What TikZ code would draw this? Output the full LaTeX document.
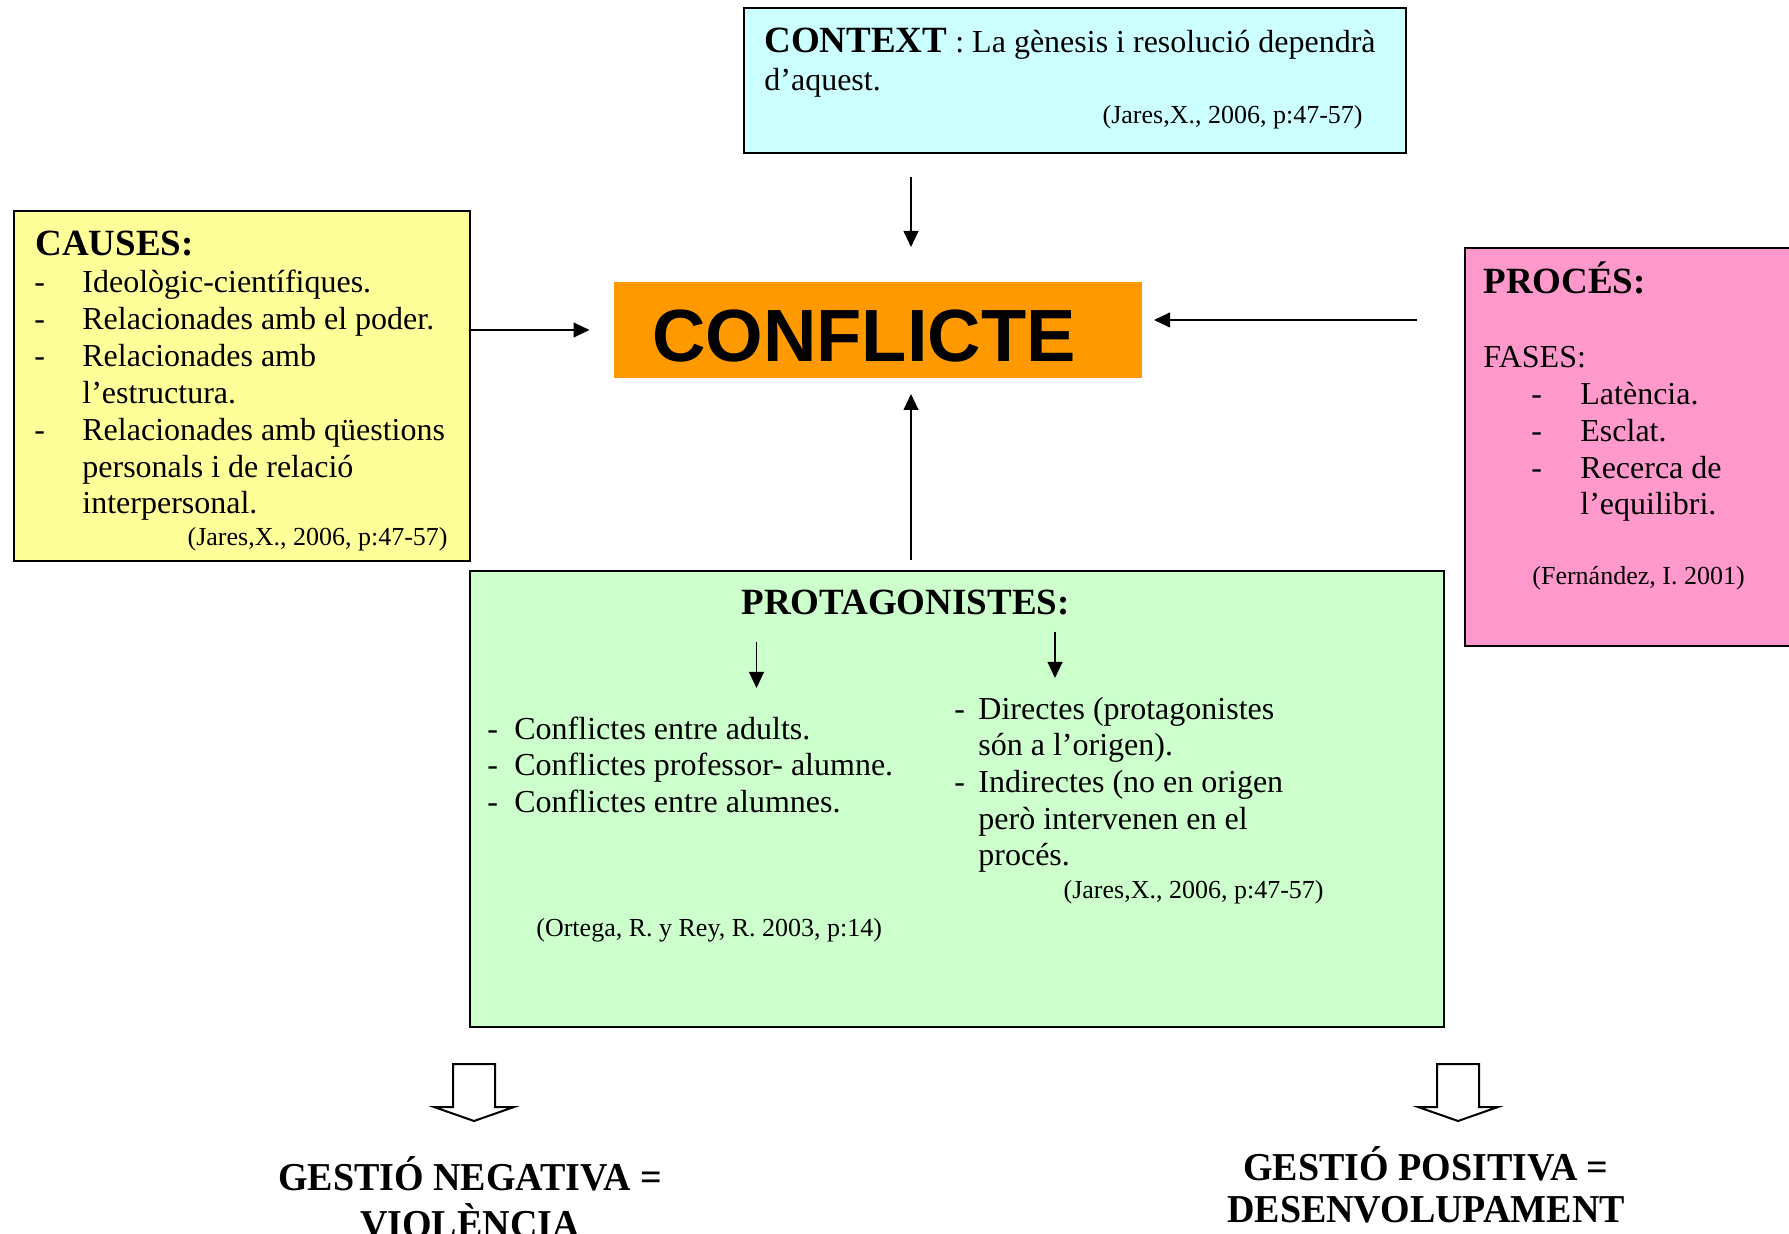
\documentclass[tikz,border=0pt]{standalone}
\usepackage{fontspec}
\setmainfont{Liberation Serif}
\newfontfamily\arialf{Liberation Sans}
\usetikzlibrary{arrows.meta}
\definecolor{ctxc}{HTML}{CCFFFF}
\definecolor{causc}{HTML}{FFFF99}
\definecolor{procc}{HTML}{FF99CC}
\definecolor{protc}{HTML}{CCFFCC}
\definecolor{confc}{HTML}{FF9900}
\tikzset{
  box/.style={draw=black, line width=1pt, inner sep=0pt, anchor=north west},
  txt/.style={inner sep=0pt, anchor=base west, font=\fontsize{16}{18.4}\selectfont},
  hd/.style={inner sep=0pt, anchor=base west, font=\fontsize{18.5}{21}\selectfont\bfseries},
  cite/.style={inner sep=0pt, font=\fontsize{13}{15}\selectfont},
  bot/.style={inner sep=0pt, anchor=base, font=\fontsize{19}{22}\selectfont\bfseries},
  arr/.style={-{Triangle[length=8pt,width=7.4pt]}, line width=0.8pt},
  hollow/.style={draw=black, fill=white, line width=1pt, line join=miter}
}
\begin{document}
\begin{tikzpicture}[x=0.5pt, y=-0.5pt]
\useasboundingbox (0,0) rectangle (1789,1234);
% boxes
\node[box, fill=ctxc, minimum width=331pt, minimum height=72.5pt] (ctx) at (743,7) {};
\node[box, fill=causc, minimum width=228.25pt, minimum height=175pt] (causes) at (12.5,210) {};
\node[box, draw=none, fill=confc, minimum width=264.25pt, minimum height=48.25pt] (conf) at (612.5,281) {};
\node[box, fill=procc, minimum width=168.25pt, minimum height=199pt] (proc) at (1463.5,247.5) {};
\node[box, fill=protc, minimum width=487pt, minimum height=227.75pt] (prot) at (469,570) {};

% CONTEXT
\node[txt] (ctx1) at (764,53) {{\fontsize{18.5}{21}\selectfont\bfseries CONTEXT} : La gènesis i resolució dependrà};
\node[txt] (ctx2) at (764,91) {d’aquest.};
\node[cite, anchor=base east] (ctx3) at (1363,124) {(Jares,X., 2006, p:47-57)};

% CONFLICTE
\node[inner sep=0pt, anchor=base, font=\arialf\fontsize{37}{40}\selectfont\bfseries] (conft) at (864,362) {CONFLICTE};

% CAUSES
\node[hd] (cau0) at (35,256) {CAUSES:};
\node[txt] (caud1) at (34,293) {-};
\node[txt] (cau1) at (82,293) {Ideològic-científiques.};
\node[txt] (caud2) at (34,330) {-};
\node[txt] (cau2) at (82,330) {Relacionades amb el poder.};
\node[txt] (caud3) at (34,367) {-};
\node[txt] (cau3) at (82,367) {Relacionades amb};
\node[txt] (cau4) at (82,404) {l’estructura.};
\node[txt] (caud5) at (34,441) {-};
\node[txt] (cau5) at (82,441) {Relacionades amb qüestions};
\node[txt] (cau6) at (82,478) {personals i de relació};
\node[txt] (cau7) at (82,514) {interpersonal.};
\node[cite, anchor=base east] (cau8) at (448,546) {(Jares,X., 2006, p:47-57)};

% PROCES
\node[hd] (pro0) at (1483,294) {PROCÉS:};
\node[txt] (pro1) at (1483,368) {FASES:};
\node[txt] (prod2) at (1531,405) {-};
\node[txt] (pro2) at (1580,405) {Latència.};
\node[txt] (prod3) at (1531,442) {-};
\node[txt] (pro3) at (1580,442) {Esclat.};
\node[txt] (prod4) at (1531,479) {-};
\node[txt] (pro4) at (1580,479) {Recerca de};
\node[txt] (pro5) at (1580,515) {l’equilibri.};
\node[cite, anchor=base west] (pro6) at (1532,585) {(Fernández, I. 2001)};

% PROTAGONISTES
\node[hd] (pt0) at (741,615) {PROTAGONISTES:};
\node[txt] (ptld1) at (487,740) {-};
\node[txt] (ptl1) at (514,740) {Conflictes entre adults.};
\node[txt] (ptld2) at (487,776) {-};
\node[txt] (ptl2) at (514,776) {Conflictes professor- alumne.};
\node[txt] (ptld3) at (487,813) {-};
\node[txt] (ptl3) at (514,813) {Conflictes entre alumnes.};
\node[cite, anchor=base west] (ptl4) at (536,936) {(Ortega, R. y Rey, R. 2003, p:14)};
\node[txt] (ptrd1) at (954,720) {-};
\node[txt] (ptr1) at (978,720) {Directes (protagonistes};
\node[txt] (ptr2) at (978,756) {són a l’origen).};
\node[txt] (ptrd3) at (954,793) {-};
\node[txt] (ptr3) at (978,793) {Indirectes (no en origen};
\node[txt] (ptr4) at (978,830) {però intervenen en el};
\node[txt] (ptr5) at (978,866) {procés.};
\node[cite, anchor=base east] (ptr6) at (1324,899) {(Jares,X., 2006, p:47-57)};

% inner arrows
\coordinate (ia1s) at (756.5,642);
\coordinate (ia1e) at (756.5,688);
\coordinate (ia2s) at (1055,632);
\coordinate (ia2e) at (1055,678);
\draw[arr] (ia1s) -- (ia1e);
\draw[arr] (ia2s) -- (ia2e);

% main connectors
\coordinate (ax) at (911,0);
\coordinate (ly) at (0,330);
\coordinate (ry) at (0,320);
\draw[arr, shorten <=11.5pt, shorten >=17pt] (ctx.south -| ax) -- (conf.north -| ax);
\draw[arr, shorten >=11.5pt] (causes.east |- ly) -- (conf.west |- ly);
\draw[arr, shorten <=23.5pt, shorten >=5.5pt] (proc.west |- ry) -- (conf.east |- ry);
\draw[arr, shorten <=5pt, shorten >=7.25pt] (prot.north -| ax) -- (conf.south -| ax);

% hollow arrows
\draw[hollow] (453,1064) -- (495,1064) -- (495,1107) -- (514,1107) -- (474,1121) -- (434,1107) -- (453,1107) -- cycle;
\draw[hollow] (1437,1064) -- (1479,1064) -- (1479,1107) -- (1498,1107) -- (1458,1121) -- (1418,1107) -- (1437,1107) -- cycle;

% bottom texts
\node[bot] (neg1) at (470,1190) {\scalebox{1}[1.04]{GESTIÓ NEGATIVA =}};
\node[bot] (neg2) at (470,1237) {\scalebox{1}[1.04]{VIOLÈNCIA}};
\node[bot] (pos1) at (1426,1180) {\scalebox{1}[1.04]{GESTIÓ POSITIVA =}};
\node[bot] (pos2) at (1426,1222) {\scalebox{1}[1.04]{DESENVOLUPAMENT}};
\end{tikzpicture}
\end{document}
